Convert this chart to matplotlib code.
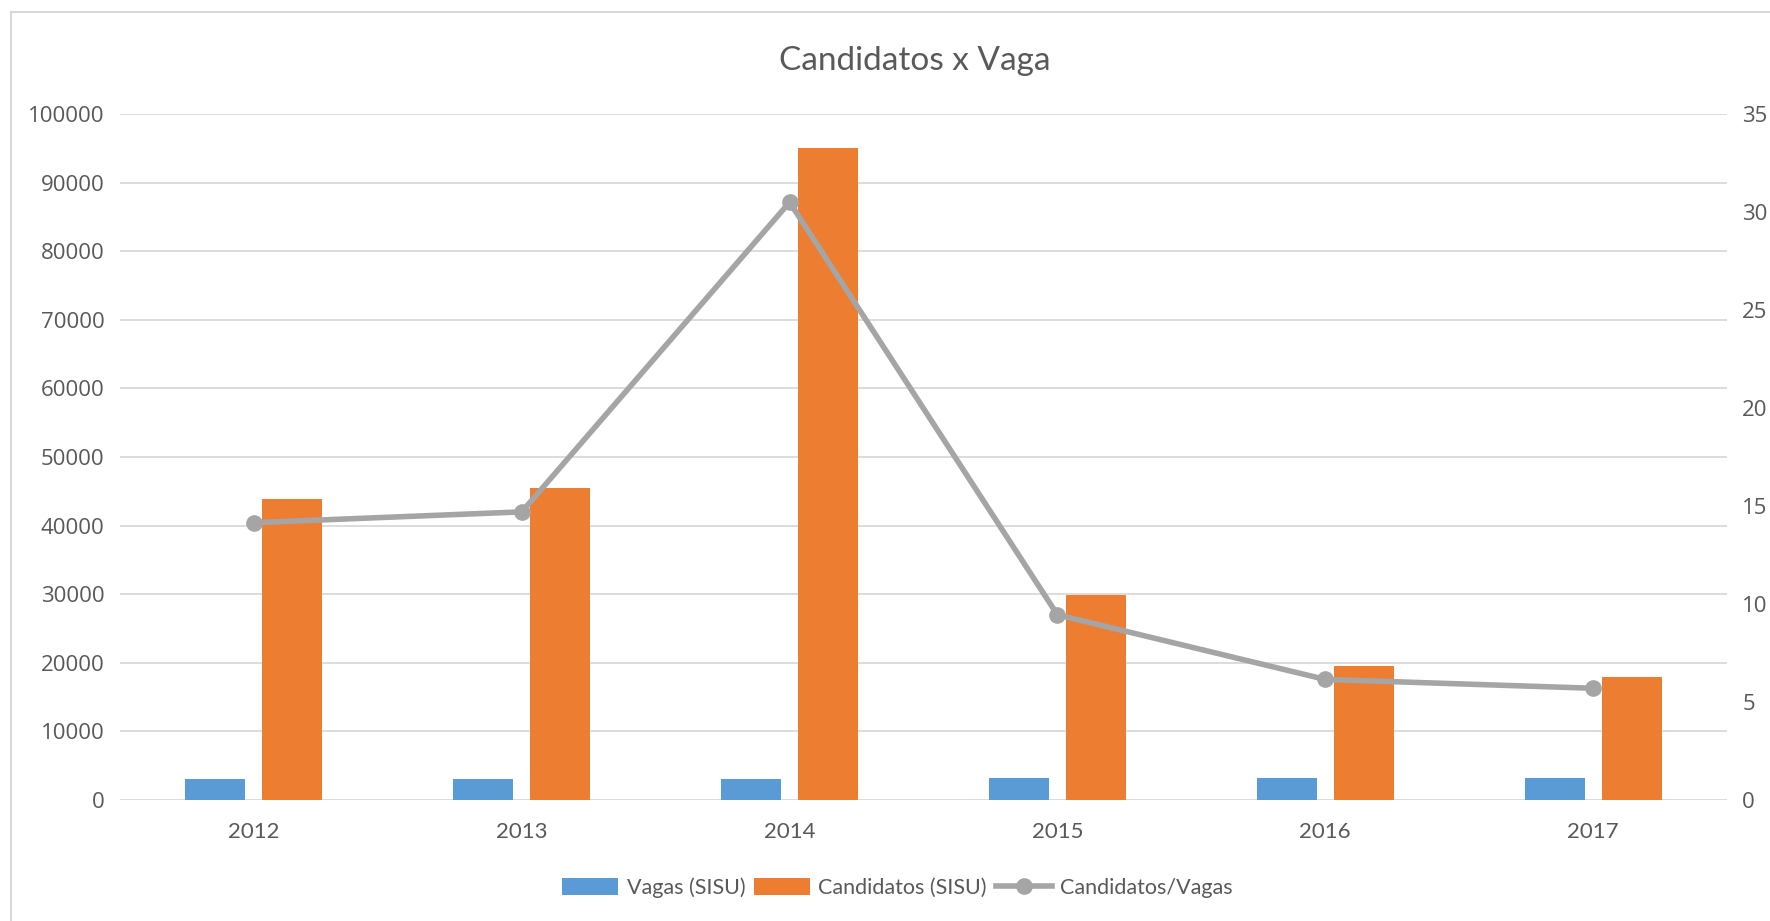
import matplotlib.pyplot as plt
from matplotlib.patches import Rectangle
import numpy as np

anos = ["2012", "2013", "2014", "2015", "2016", "2017"]
vagas = [3100, 3100, 3100, 3200, 3200, 3200]
candidatos = [43900, 45500, 95000, 29900, 19500, 18000]
cand_por_vaga = [14.15, 14.7, 30.5, 9.45, 6.15, 5.7]

AZUL = "#5B9BD5"
LARANJA = "#ED7D31"
CINZA = "#A5A5A5"
TEXTO = "#595959"
GRADE = "#D9D9D9"

fig = plt.figure(figsize=(17.7, 9.21), dpi=100)
# moldura do grafico
fig.patches.append(Rectangle((11 / 1770, -0.1), 1.2, 1 - 12 / 921 + 0.1,
                             transform=fig.transFigure, fill=False,
                             edgecolor=GRADE, linewidth=1.5))

ax = fig.add_axes([0.0678, 0.1314, 0.9079, 0.7448])
x = np.arange(len(anos))
w = 0.224
ax.bar(x - 0.144, vagas, w, color=AZUL, label="Vagas (SISU)", zorder=2)
ax.bar(x + 0.144, candidatos, w, color=LARANJA, label="Candidatos (SISU)", zorder=2)

ax.set_xlim(-0.5, len(anos) - 0.5)
ax.set_ylim(0, 100000)
ax.set_yticks(range(0, 100001, 10000))
ax.set_yticklabels([str(v) for v in range(0, 100001, 10000)],
                   fontfamily="Open Sans", fontsize=16, color=TEXTO)
ax.set_xticks(x)
ax.set_xticklabels(anos, fontfamily="Lato", fontsize=16, color=TEXTO)
ax.tick_params(axis="both", length=0)
ax.tick_params(axis="y", pad=11)
ax.tick_params(axis="x", pad=16)
ax.grid(axis="y", color=GRADE, linewidth=1.3, zorder=0)
for s in ax.spines.values():
    s.set_visible(False)

ax2 = ax.twinx()
ax2.plot(x, cand_por_vaga, color=CINZA, linewidth=4, marker="o",
         markersize=11, label="Candidatos/Vagas", zorder=3)
ax2.set_ylim(0, 35)
ax2.set_yticks(range(0, 36, 5))
ax2.set_yticklabels([str(v) for v in range(0, 36, 5)],
                    fontfamily="Open Sans", fontsize=16, color=TEXTO)
ax2.tick_params(axis="y", length=0, pad=11)
for s in ax2.spines.values():
    s.set_visible(False)

fig.text(0.517, 0.934, "Candidatos x Vaga", ha="center", va="center",
         fontfamily="Lato", fontsize=24, color=TEXTO)

h1, l1 = ax.get_legend_handles_labels()
h2, l2 = ax2.get_legend_handles_labels()
fig.legend(h1 + h2, l1 + l2, loc="center", bbox_to_anchor=(0.507, 0.036),
           ncol=3, frameon=False, handlelength=2.6, handleheight=0.8,
           handletextpad=0.4, columnspacing=0.4,
           prop={"family": "Lato", "size": 15.5}, labelcolor=TEXTO)

fig.savefig("out.png", dpi=100, facecolor="white")
